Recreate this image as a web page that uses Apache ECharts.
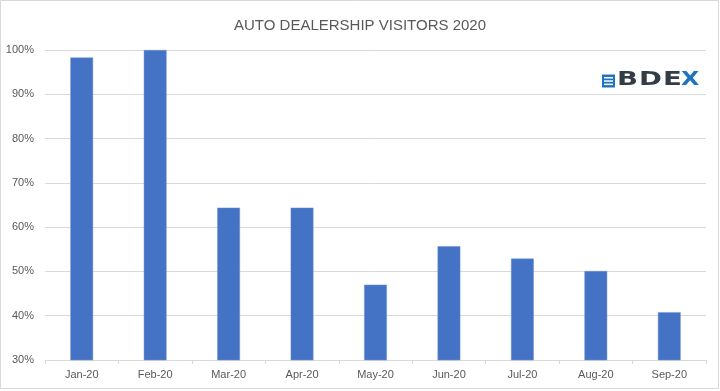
<!DOCTYPE html>
<html>
<head>
<meta charset="utf-8">
<script src="https://cdn.jsdelivr.net/npm/echarts@6/dist/echarts.min.js"></script>
<style>html,body{margin:0;padding:0;background:#fff;}#c{width:720px;height:391px;}</style>
</head>
<body>
<div id="c"></div>
<script>
const categories = ['Jan-20','Feb-20','Mar-20','Apr-20','May-20','Jun-20','Jul-20','Aug-20','Sep-20'];
const visitors = [98.3, 100, 64.4, 64.4, 47.0, 55.7, 52.9, 50.1, 40.8];
const yTicks = [30, 40, 50, 60, 70, 80, 90, 100];

const logoFont = 'bold 19px "DejaVu Sans"';
const chart = echarts.init(document.getElementById('c'), null, {renderer: 'canvas'});
chart.setOption({
  animation: false,
  backgroundColor: '#fff',
  title: {
    text: 'AUTO DEALERSHIP VISITORS 2020',
    left: 'center',
    top: 13,
    textStyle: {fontFamily: 'Liberation Sans', fontSize: 15, fontWeight: 'normal', color: '#595959'}
  },
  grid: {left: 45, right: 14, top: 50, bottom: 31, containLabel: false},
  xAxis: {
    type: 'category',
    data: categories,
    axisLine: {show: true, lineStyle: {color: '#d9d9d9', width: 1}},
    axisTick: {show: true, alignWithLabel: false, length: 4, lineStyle: {color: '#d9d9d9'}},
    axisLabel: {color: '#595959', fontFamily: 'Liberation Sans', fontSize: 11, margin: 9}
  },
  yAxis: {
    type: 'value',
    min: yTicks[0],
    max: yTicks[yTicks.length - 1],
    interval: 10,
    axisLine: {show: false},
    axisTick: {show: false},
    splitLine: {lineStyle: {color: '#d9d9d9', width: 1}},
    axisLabel: {formatter: '{value}%', color: '#595959', fontFamily: 'Liberation Sans', fontSize: 11, margin: 11}
  },
  series: [{
    type: 'bar',
    data: visitors,
    barWidth: '31%',
    itemStyle: {color: '#4472c4', borderColor: '#6f93d6', borderWidth: 0.5}
  }],
  graphic: [
    {type: 'rect', shape: {x: 0.5, y: 0.5, width: 718, height: 388}, style: {fill: 'none', stroke: '#d9d9d9', lineWidth: 1}, silent: true},
    {type: 'group', x: 602, y: 74, children: [
      {type: 'rect', shape: {x: 0, y: 0.5, width: 13, height: 13}, style: {fill: '#1f74bd'}},
      {type: 'rect', shape: {x: 2, y: 3, width: 9, height: 1.5}, style: {fill: '#fff'}},
      {type: 'rect', shape: {x: 2, y: 6.3, width: 9, height: 1.5}, style: {fill: '#fff'}},
      {type: 'rect', shape: {x: 2, y: 9.6, width: 9, height: 1.5}, style: {fill: '#fff'}},
      {type: 'text', x: 15, y: -3.5, scaleX: 1.45, style: {text: 'B', font: logoFont, fill: '#343c46'}},
      {type: 'text', x: 37, y: -3.5, scaleX: 1.45, style: {text: 'D', font: logoFont, fill: '#343c46'}},
      {type: 'text', x: 61, y: -3.5, scaleX: 1.45, style: {text: 'E', font: logoFont, fill: '#343c46'}},
      {type: 'text', x: 79, y: -3.5, scaleX: 1.25, style: {text: 'X', font: logoFont, fill: '#1f74bd'}}
    ]}
  ]
});
</script>
</body>
</html>
